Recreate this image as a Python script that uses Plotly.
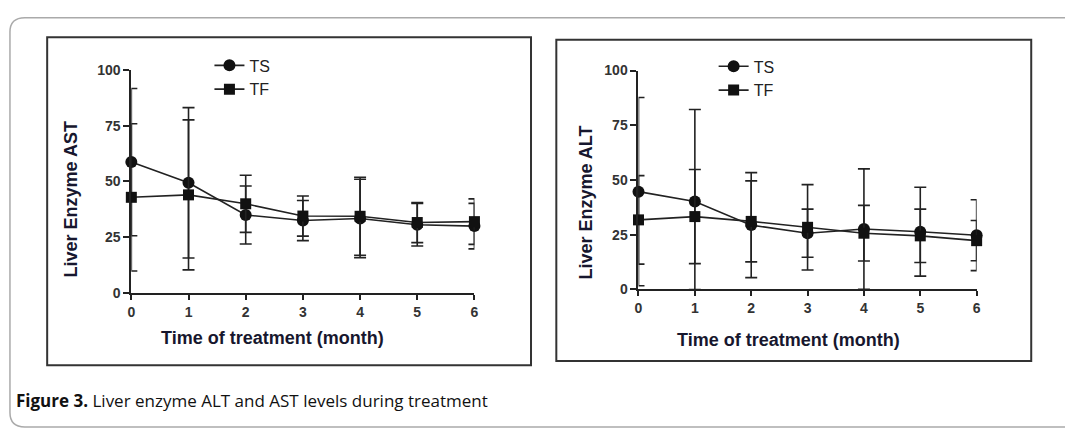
import plotly.graph_objects as go

W, H = 1065, 432

months = [0, 1, 2, 3, 4, 5, 6]
tick_vals_y = [0, 25, 50, 75, 100]

# AST (left panel)
ast_ts = [58.7, 49.4, 35.0, 32.5, 33.4, 30.6, 30.0]
ast_ts_err = [33.0, 33.7, 13.0, 9.0, 17.6, 9.5, 10.2]
ast_tf = [42.9, 44.0, 40.0, 34.5, 34.4, 31.6, 32.0]
ast_tf_err = [33.0, 33.6, 12.8, 9.0, 17.5, 9.0, 10.2]

# ALT (right panel)
alt_ts = [44.7, 40.2, 29.4, 25.7, 27.6, 26.4, 24.8]
alt_ts_err = [43.0, 42.0, 24.0, 11.0, 27.5, 20.3, 16.2]
alt_ts_err_minus = [43.0, 40.2, 24.0, 11.0, 27.5, 20.3, 16.2]
alt_tf = [31.8, 33.3, 31.1, 28.4, 25.7, 24.5, 22.3]
alt_tf_err = [20.2, 21.5, 18.5, 19.5, 12.7, 12.2, 9.2]

series_names = ["TS", "TF"]
x_title = "Time of treatment (month)"
y_title_left = "Liver Enzyme AST"
y_title_right = "Liver Enzyme ALT"
caption_bold = "Figure 3."
caption_text = " Liver enzyme ALT and AST levels during treatment"

INK = "#222222"


def px(x):
    return x / W


def py(y):
    return 1 - y / H


def err(arr, minus=None):
    d = dict(type="data", array=arr, color=INK, thickness=1.6, width=6, visible=True)
    if minus is not None:
        d["symmetric"] = False
        d["arrayminus"] = minus
    return d


fig = go.Figure()

panels = [
    ("x", "y", "legend", ast_ts, ast_ts_err, None, ast_tf, ast_tf_err),
    ("x2", "y2", "legend2", alt_ts, alt_ts_err, alt_ts_err_minus, alt_tf, alt_tf_err),
]
for xa, ya, lg, ts, tse, tsem, tf, tfe in panels:
    fig.add_trace(go.Scatter(
        x=months, y=ts, name=series_names[0], xaxis=xa, yaxis=ya, legend=lg,
        mode="lines+markers", cliponaxis=False,
        line=dict(color=INK, width=1.6),
        marker=dict(symbol="circle", size=12, color="#111111"),
        error_y=err(tse, tsem),
    ))
    fig.add_trace(go.Scatter(
        x=months, y=tf, name=series_names[1], xaxis=xa, yaxis=ya, legend=lg,
        mode="lines+markers", cliponaxis=False,
        line=dict(color=INK, width=1.6),
        marker=dict(symbol="square", size=11, color="#111111"),
        error_y=err(tfe),
    ))

tickfont = dict(family="Liberation Sans, Arial, sans-serif", size=14, color="#333333",
                weight="bold")
xcommon = dict(range=[0, 6], tickvals=months, showline=True, linecolor=INK, linewidth=2,
               ticks="outside", ticklen=5, tickwidth=1.6, tickcolor=INK, showgrid=False,
               zeroline=False, tickfont=tickfont, fixedrange=True)
ycommon = dict(range=[0, 100], tickvals=tick_vals_y, showline=True, linecolor=INK, linewidth=2,
               ticks="outside", ticklen=6, tickwidth=1.6, tickcolor=INK, showgrid=False,
               zeroline=False, tickfont=tickfont, fixedrange=True)

legfont = dict(family="Liberation Sans, Arial, sans-serif", size=16, color="#222222")

fig.update_layout(
    width=W, height=H,
    margin=dict(l=0, r=0, t=0, b=0),
    paper_bgcolor="white", plot_bgcolor="white",
    showlegend=True,
    xaxis=dict(domain=[px(128.3), px(474)], anchor="y", **xcommon),
    yaxis=dict(domain=[py(296), py(64.3)], anchor="x", **ycommon),
    xaxis2=dict(domain=[px(639.3), px(980)], anchor="y2", **xcommon),
    yaxis2=dict(domain=[py(292.3), py(65)], anchor="x2", **ycommon),
    legend=dict(x=px(207), y=py(42), xanchor="left", yanchor="top", font=legfont,
                bgcolor="rgba(0,0,0,0)", tracegroupgap=0, itemwidth=30),
    legend2=dict(x=px(715), y=py(43), xanchor="left", yanchor="top", font=legfont,
                 bgcolor="rgba(0,0,0,0)", tracegroupgap=0, itemwidth=30),
)

titlefont = dict(family="Liberation Sans, Arial, sans-serif", size=18, color="#17172e")
annotations = [
    dict(text=f"<b>{y_title_left}</b>", x=px(67.3), y=py(199), textangle=-90),
    dict(text=f"<b>{y_title_right}</b>", x=px(586.7), y=py(201.7), textangle=-90),
    dict(text=f"<b>{x_title}</b>", x=px(270.8), y=py(343)),
    dict(text=f"<b>{x_title}</b>", x=px(790), y=py(345)),
]
for a in annotations:
    fig.add_annotation(xref="paper", yref="paper", showarrow=False,
                       xanchor="center", yanchor="middle", font=titlefont, **a)

fig.add_annotation(
    xref="paper", yref="paper", showarrow=False, xanchor="left", yanchor="middle",
    x=px(10), y=py(408),
    text=f"<b>{caption_bold}</b>{caption_text}",
    font=dict(family="Open Sans, sans-serif", size=17, color="#111111"),
)

# panel frames
fig.add_shape(type="rect", xref="paper", yref="paper",
              x0=px(43.5), x1=px(531), y0=py(371), y1=py(30.5),
              line=dict(color="#333333", width=2))
fig.add_shape(type="rect", xref="paper", yref="paper",
              x0=px(556.5), x1=px(1035), y0=py(366.5), y1=py(33),
              line=dict(color="#333333", width=2))

# outer rounded border
r = 15
path = (f"M {px(1075)} {py(10)} L {px(6 + r)} {py(10)} "
        f"Q {px(6)} {py(10)} {px(6)} {py(10 + r)} "
        f"L {px(6)} {py(435 - r)} Q {px(6)} {py(435)} {px(6 + r)} {py(435)} "
        f"L {px(1075)} {py(435)}")
fig.add_shape(type="path", xref="paper", yref="paper", path=path,
              line=dict(color="#aaaaaa", width=1.5))

fig.write_html(
    "out.html",
    config={"displayModeBar": False},
    post_script="document.body.style.margin='0';document.body.style.overflow='hidden';",
)
